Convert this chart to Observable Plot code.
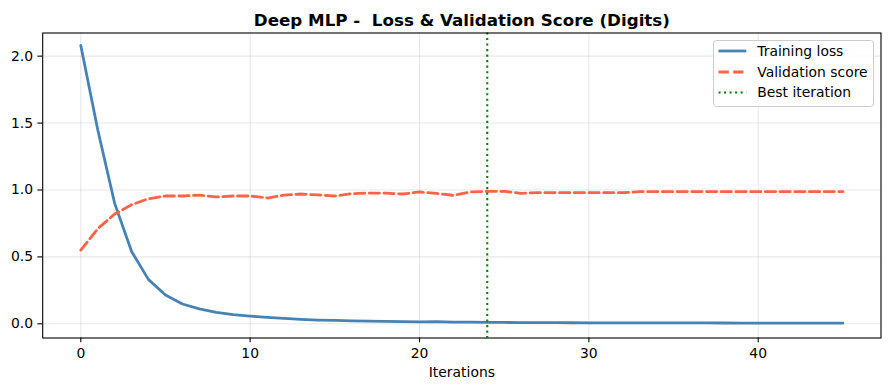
<!DOCTYPE html>
<html>
<head>
<meta charset="utf-8">
<script src="https://cdn.jsdelivr.net/npm/d3@7"></script>
<script src="https://cdn.jsdelivr.net/npm/@observablehq/plot@0.6"></script>
<style>
  html, body { margin: 0; padding: 0; background: #fff; }
  #wrap { position: relative; width: 889px; height: 390px; font-family: "DejaVu Sans", sans-serif; }
  #legend { position: absolute; left: 713px; top: 40px; }
</style>
</head>
<body>
<div id="wrap"></div>
<script>
// ---- data ----
const title = "Deep MLP -  Loss & Validation Score (Digits)";
const xLabel = "Iterations";
const iterations = [0,1,2,3,4,5,6,7,8,9,10,11,12,13,14,15,16,17,18,19,20,21,22,23,24,25,26,27,28,29,30,31,32,33,34,35,36,37,38,39,40,41,42,43,44,45];
const trainingLoss = [2.08,1.45,0.90,0.54,0.33,0.215,0.148,0.112,0.085,0.068,0.058,0.048,0.040,0.033,0.028,0.025,0.022,0.020,0.018,0.016,0.015,0.016,0.013,0.012,0.011,0.010,0.0095,0.009,0.0085,0.008,0.0078,0.0075,0.0072,0.007,0.0068,0.0066,0.0064,0.0062,0.006,0.0058,0.0057,0.0055,0.0054,0.0053,0.0052,0.005];
const validationScore = [0.55,0.71,0.82,0.89,0.935,0.955,0.955,0.962,0.948,0.955,0.955,0.94,0.962,0.97,0.963,0.955,0.972,0.977,0.977,0.97,0.985,0.975,0.96,0.985,0.99,0.99,0.975,0.98,0.98,0.98,0.98,0.98,0.98,0.987,0.987,0.987,0.987,0.987,0.987,0.987,0.987,0.987,0.987,0.987,0.987,0.987];
const bestIteration = [24];
const xTicks = [0,10,20,30,40];
const yTicks = [0,0.5,1.0,1.5,2.0];
const legendLabels = ["Training loss","Validation score","Best iteration"];

// ---- table ----
const rows = iterations.map((it, i) => ({iter: it, loss: trainingLoss[i], val: validationScore[i]}));

const BLUE = "#4682b4", RED = "#ff6347", GREEN = "#008000";
const FS = 13.9;

const chart = Plot.plot({
  width: 889,
  height: 390,
  marginLeft: 42.2,
  marginRight: 8.5,
  marginTop: 32.5,
  marginBottom: 52.5,
  style: {fontFamily: "DejaVu Sans, sans-serif", fontSize: FS + "px", color: "black", background: "white", overflow: "visible"},
  x: {domain: [-2.25, 47.25]},
  y: {domain: [-0.106, 2.173]},
  marks: [
    Plot.gridX(xTicks, {stroke: "#b0b0b0", strokeOpacity: 0.3, strokeWidth: 1.1}),
    Plot.gridY(yTicks, {stroke: "#b0b0b0", strokeOpacity: 0.3, strokeWidth: 1.1}),
    Plot.line(rows, {x: "iter", y: "loss", stroke: BLUE, strokeWidth: 2.78, strokeLinejoin: "round"}),
    Plot.line(rows, {x: "iter", y: "val", stroke: RED, strokeWidth: 2.78, strokeDasharray: "10.3,4.4", strokeLinejoin: "round"}),
    Plot.ruleX(bestIteration, {stroke: GREEN, strokeWidth: 2.08, strokeDasharray: "2.08,3.44"}),
    Plot.frame({stroke: "black", strokeWidth: 1.1}),
    Plot.axisX({ticks: xTicks, tickSize: 4.86, tickPadding: 4.86, strokeWidth: 1.1, label: null, fontSize: FS}),
    Plot.axisY({ticks: yTicks, tickFormat: d3.format(".1f"), tickSize: 4.86, tickPadding: 4.86, strokeWidth: 1.1, label: null, fontSize: FS}),
    Plot.text([xLabel], {frameAnchor: "bottom", lineAnchor: "middle", dy: 35, fontSize: FS, fill: "black"}),
    Plot.text([title], {frameAnchor: "top", lineAnchor: "middle", dy: -12.8, fontSize: 16.7, fontWeight: "bold", fill: "black"})
  ]
});
const wrap = document.getElementById("wrap");
wrap.appendChild(chart);

// ---- legend overlay ----
const ns = "http://www.w3.org/2000/svg";
const lg = document.createElementNS(ns, "svg");
lg.setAttribute("id", "legend");
lg.setAttribute("width", 161);
lg.setAttribute("height", 67);
lg.style.overflow = "visible";
const box = document.createElementNS(ns, "rect");
box.setAttribute("x", 0.5); box.setAttribute("y", 0.5);
box.setAttribute("width", 160); box.setAttribute("height", 66);
box.setAttribute("rx", 3); box.setAttribute("fill", "rgba(255,255,255,0.8)");
box.setAttribute("stroke", "#cccccc"); box.setAttribute("stroke-width", 1);
lg.appendChild(box);
const styles = [
  {stroke: BLUE, width: 2.78, dash: null},
  {stroke: RED, width: 2.78, dash: "10.3,4.4"},
  {stroke: GREEN, width: 2.08, dash: "2.08,3.44"}
];
const rowY = [11, 32, 52.5];
legendLabels.forEach((lab, i) => {
  const ln = document.createElementNS(ns, "line");
  ln.setAttribute("x1", 5.5); ln.setAttribute("x2", 33.3);
  ln.setAttribute("y1", rowY[i]); ln.setAttribute("y2", rowY[i]);
  ln.setAttribute("stroke", styles[i].stroke);
  ln.setAttribute("stroke-width", styles[i].width);
  if (styles[i].dash) ln.setAttribute("stroke-dasharray", styles[i].dash);
  lg.appendChild(ln);
  const tx = document.createElementNS(ns, "text");
  tx.setAttribute("x", 44.3); tx.setAttribute("y", rowY[i]);
  tx.setAttribute("dy", "0.35em");
  tx.setAttribute("font-family", "DejaVu Sans, sans-serif");
  tx.setAttribute("font-size", FS);
  tx.setAttribute("fill", "black");
  tx.textContent = lab;
  lg.appendChild(tx);
});
wrap.appendChild(lg);
</script>
</body>
</html>
